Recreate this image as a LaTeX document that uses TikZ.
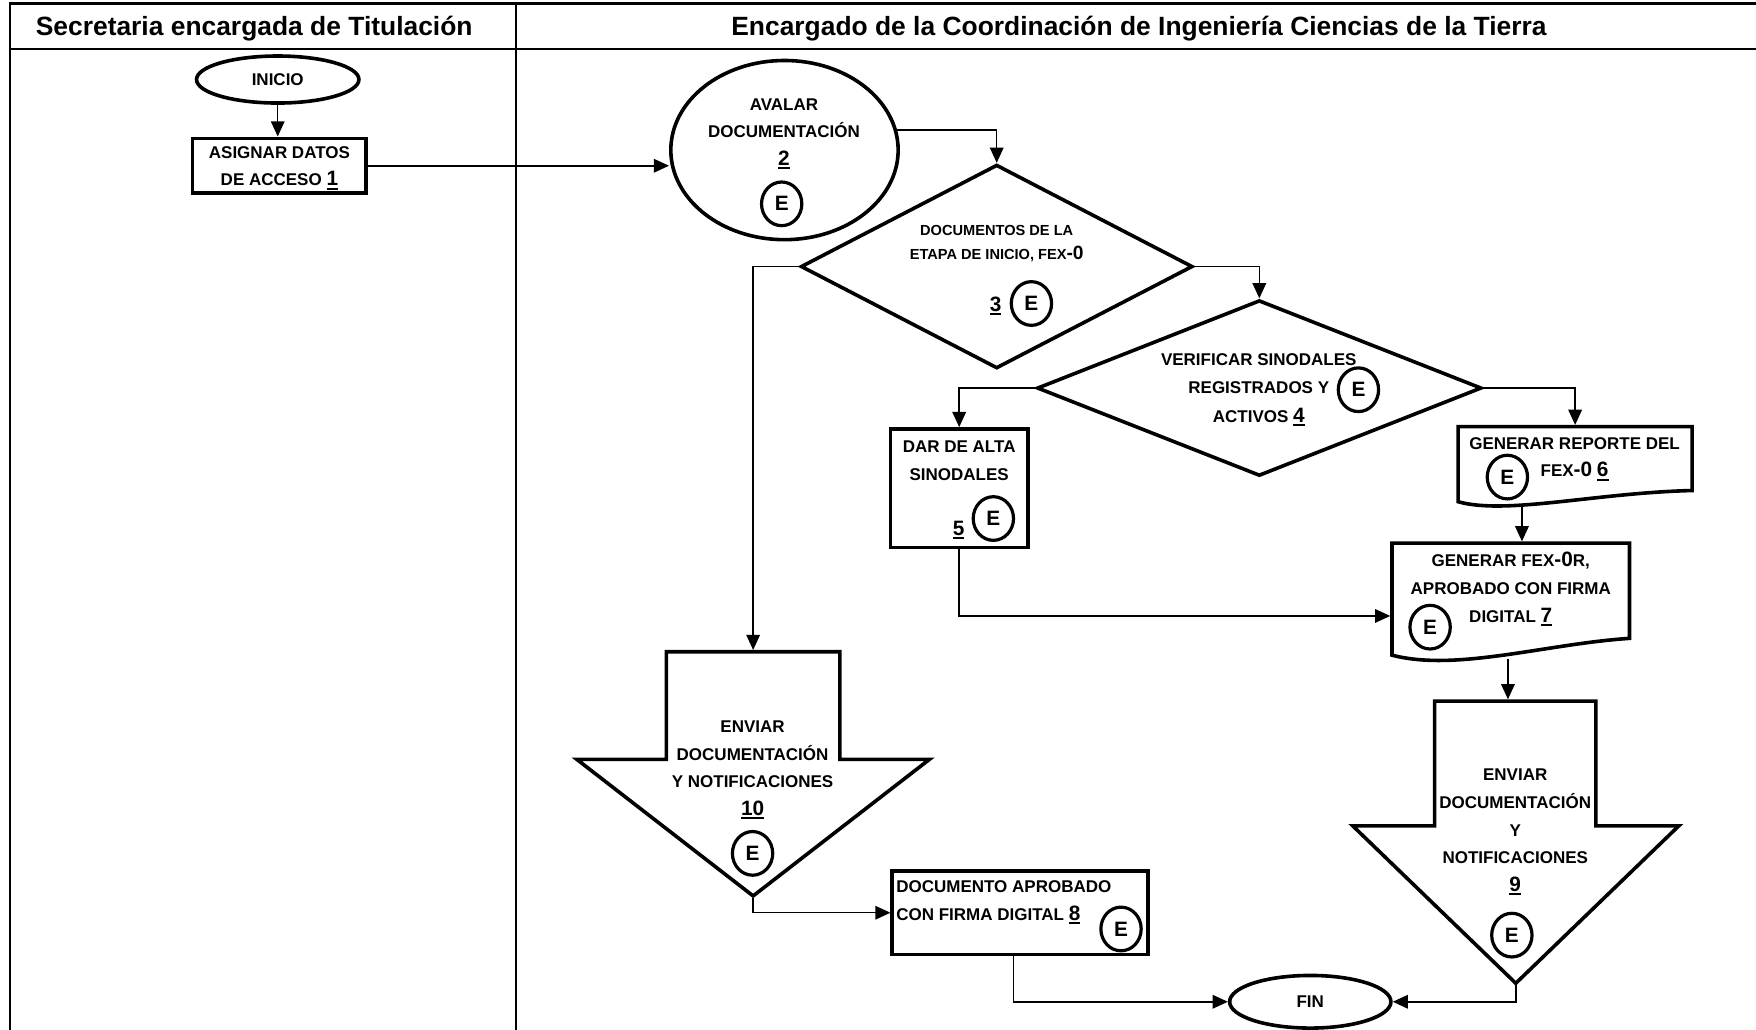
\documentclass[tikz,border=0pt]{standalone}
\usepackage{fontspec}
\setmainfont{Liberation Sans}
\usetikzlibrary{arrows.meta,shapes.geometric,calc}

\newcommand{\unitpx}{0.56pt}
\newcommand{\nodefont}{\fontsize{8.5}{13.8}\selectfont\bfseries}
\newcommand{\smallnodefont}{\fontsize{7.3}{12.3}\selectfont\bfseries}
\newcommand{\titlefont}{\fontsize{13.2}{16}\selectfont\bfseries}
% underlined step number, a little larger than the label text
\newcommand{\stepno}[1]{{\fontsize{10.4}{12}\selectfont\setbox0=\hbox{#1}\rlap{\rule[-1.8pt]{\wd0}{1pt}}\box0}}
\newcommand{\fexzero}[1][10.4]{{\fontsize{#1}{12}\selectfont -0}}

\tikzset{
  lanerule/.style={line width=1.2pt},
  lanetitle/.style={font=\titlefont, inner sep=0pt, anchor=base},
  shapeline/.style={line width=1.8pt, line join=miter},
  conn/.style={line width=0.75pt},
  arr/.style={conn, -{Triangle[width=6.8pt,length=7.6pt]}},
  txt/.style={font=\nodefont, align=center, inner sep=0pt},
  ebadge/.style={draw, ellipse, line width=1.6pt, minimum width=36*\unitpx, minimum height=39*\unitpx, inner sep=0pt, font=\fontsize{10.4}{11}\selectfont\bfseries},
  oval/.style={draw, ellipse, line width=1.8pt, inner sep=0pt, font=\nodefont},
  procbox/.style={draw, rectangle, line width=1.8pt, inner sep=0pt},
  holder/.style={rectangle, inner sep=0pt, outer sep=0.9pt},
  dmd/.style={draw, diamond, line width=1.8pt, inner sep=0pt}
}

\begin{document}
\begin{tikzpicture}[x=0.56pt, y=-0.56pt]
\useasboundingbox (0,0) rectangle (1568,919);

% swimlane frame
\draw[lanerule] (1600,3) -- (9,3) -- (9,940);
\draw[lanerule] (9,44) -- (1600,44);
\draw[lanerule] (461,3) -- (461,940);
\node[lanetitle] (lane1) at (227,32) {Secretaria encargada de Titulación};
\node[lanetitle] (lane2) at (1017,32) {Encargado de la Coordinación de Ingeniería Ciencias de la Tierra};

% start
\node[oval, minimum width=145*\unitpx, minimum height=42*\unitpx] (ini) at (248,71) {INICIO};

% step 1
\node[procbox, minimum width=155*\unitpx, minimum height=49*\unitpx] (b1) at (249.5,148) {};
\node[txt] (b1t) at (249.5,150) {ASIGNAR DATOS\\DE ACCESO \stepno{1}};

% step 2
\node[oval, minimum width=203*\unitpx, minimum height=160*\unitpx] (e2) at (700.5,134) {};
\node[txt] (e2t) at (700,119.5) {AVALAR\\DOCUMENTACIÓN\\\stepno{2}};
\node[ebadge] (e2e) at (698,182) {E};

% step 3
\node[dmd, minimum width=350*\unitpx, minimum height=182*\unitpx] (d3) at (890,238) {};
\node[txt, font=\smallnodefont] (d3t) at (890,217.5) {DOCUMENTOS DE LA\\ETAPA DE INICIO, FEX\fexzero[9.6]};
\node[txt] (d3n) at (889,273) {\stepno{3}};
\node[ebadge] (d3e) at (921,271) {E};

% step 4
\node[dmd, minimum width=397*\unitpx, minimum height=157*\unitpx] (d4) at (1124.5,346.5) {};
\node[txt, font=\fontsize{8.5}{14.2}\selectfont\bfseries] (d4t) at (1124,348) {VERIFICAR SINODALES\\REGISTRADOS Y\\ACTIVOS \stepno{4}};
\node[ebadge] (d4e) at (1213,348) {E};

% step 5
\node[procbox, minimum width=123*\unitpx, minimum height=106*\unitpx] (b5) at (856.5,436) {};
\node[txt] (b5t) at (856.5,411.5) {DAR DE ALTA\\SINODALES};
\node[txt] (b5n) at (856,473) {\stepno{5}};
\node[ebadge] (b5e) at (887,463) {E};

% step 6 (document)
\draw[shapeline] (1302,448) -- (1302,381) -- (1511,381) -- (1511,438)
  .. controls (1425,440) and (1345,460) .. (1302,448) -- cycle;
\node[holder, minimum width=209*\unitpx, minimum height=67*\unitpx] (d6) at (1406.5,414.5) {};
\node[txt] (d6t) at (1406,396) {GENERAR REPORTE DEL};
\node[txt] (d6n) at (1406,421) {FEX\fexzero{} \stepno{6}};
\node[ebadge] (d6e) at (1346,426) {E};

% step 7 (document)
\draw[shapeline] (1243,585) -- (1243,485) -- (1455,485) -- (1455,570)
  .. controls (1380,575) and (1300,600) .. (1243,585) -- cycle;
\node[holder, minimum width=212*\unitpx, minimum height=100*\unitpx] (d7) at (1349,535) {};
\node[txt] (d7t) at (1349,526) {GENERAR FEX\fexzero R,\\APROBADO CON FIRMA\\DIGITAL \stepno{7}};
\node[ebadge] (d7e) at (1277,560) {E};

% step 10 (off-page send)
\draw[shapeline] (595,582) -- (750,582) -- (750,678) -- (830,678) -- (672.5,800)
  -- (515,678) -- (595,678) -- cycle;
\node[holder, minimum width=315*\unitpx, minimum height=218*\unitpx] (s10) at (672.5,691) {};
\node[txt] (s10t) at (672,687.5) {ENVIAR\\DOCUMENTACIÓN\\Y NOTIFICACIONES\\\stepno{10}};
\node[ebadge] (s10e) at (672,762) {E};

% step 9 (off-page send)
\draw[shapeline] (1281,626) -- (1425,626) -- (1425,737.5) -- (1499,737.5) -- (1353.5,878)
  -- (1208,737.5) -- (1281,737.5) -- cycle;
\node[holder, minimum width=291*\unitpx, minimum height=252*\unitpx] (s9) at (1353.5,752) {};
\node[txt] (s9t) at (1353,743) {ENVIAR\\DOCUMENTACIÓN\\Y\\NOTIFICACIONES\\\stepno{9}};
\node[ebadge] (s9e) at (1350,835) {E};

% step 8
\node[procbox, minimum width=228.5*\unitpx, minimum height=74.5*\unitpx] (b8) at (911,815) {};
\node[txt, align=left, anchor=west] (b8t) at (800,805.5) {DOCUMENTO APROBADO\\CON FIRMA DIGITAL \stepno{8}};
\node[ebadge] (b8e) at (1001,829.5) {E};

% end
\node[oval, minimum width=144*\unitpx, minimum height=47*\unitpx] (fin) at (1170,894.5) {FIN};

% connectors
\coordinate (d7in) at ($(d7.north)+(10,0)$);
\coordinate (s9in) at ($(s9.north)+(-7,0)$);
\coordinate (b8out) at ($(b8.south)+(-6,0)$);
\draw[arr] (ini.south) -- (ini.south |- b1.north);
\draw[arr] (b1.east) -- (b1.east -| e2.west);
\draw[arr] (e2.10) -| (d3.north);
\draw[arr] (d3.west) -| (s10.north);
\draw[arr] (d3.east) -| (d4.north);
\draw[arr] (d4.west) -| (b5.north);
\draw[arr] (d4.east) -| (d6.north);
\draw[arr] (b5.south) |- ($(d7.west)+(0,15)$);
\draw[arr] ($(d7in |- d6.south)+(0,3)$) -- (d7in);
\draw[arr] ($(s9in |- d7.south)+(0,2)$) -- (s9in);
\draw[arr] (s10.south) |- (b8.west);
\draw[arr] (b8out) |- (fin.west);
\draw[arr] (s9.south) |- (fin.east);
\end{tikzpicture}
\end{document}
